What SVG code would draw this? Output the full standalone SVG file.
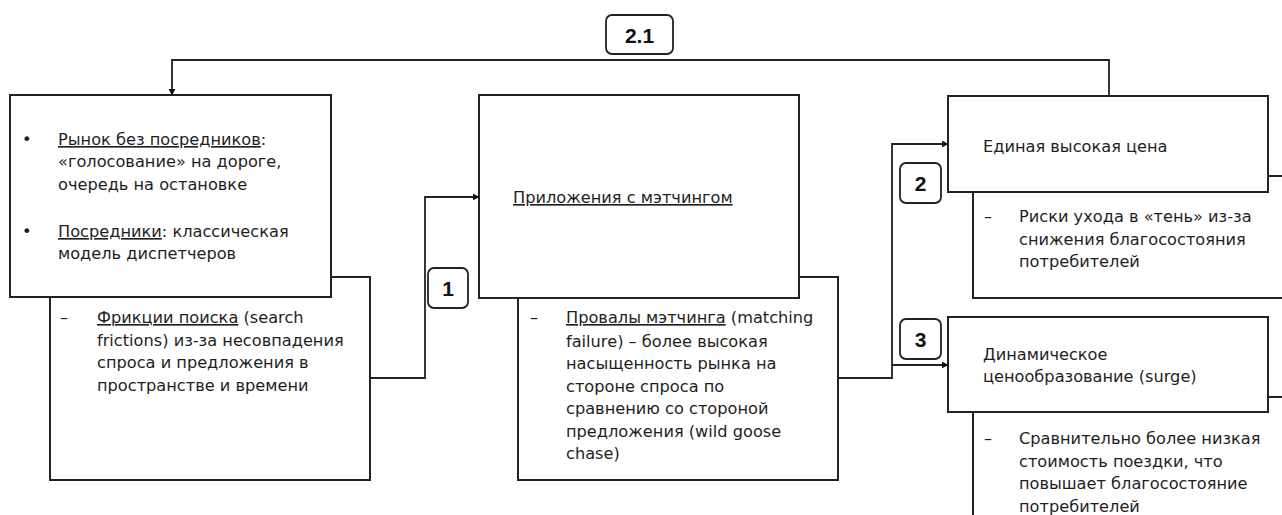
<svg xmlns="http://www.w3.org/2000/svg" width="1282" height="515" viewBox="0 0 1282 515">
<defs>
<style>
.box{fill:#fff;stroke:#222;stroke-width:2}
.lbl{fill:#fff;stroke:#222;stroke-width:1.8}
.t{font-family:"DejaVu Sans","Open Sans",sans-serif;font-size:16.2px;fill:#1e1e1e}
.n{font-family:"Liberation Sans","Open Sans",sans-serif;font-size:21px;font-weight:bold;fill:#111;text-anchor:middle}
.u{text-decoration:underline}
.c{fill:none;stroke:#222;stroke-width:1.8}
</style>
<marker id="ah2" viewBox="0 0 10 10" refX="9" refY="5" markerWidth="7" markerHeight="7" markerUnits="userSpaceOnUse" orient="auto">
<path d="M0,0 L10,5 L0,10 z" fill="#111"/>
</marker>
</defs>
<rect width="1282" height="515" fill="#fff"/>

<g id="connectors">
<path class="c" d="M1109,96 V60 H172 V95" marker-end="url(#ah2)"/>
<path class="c" d="M370,378 H425 V197 H479" marker-end="url(#ah2)"/>
<path class="c" d="M838,378 H892 V144 H948" marker-end="url(#ah2)"/>
<path class="c" d="M892,365 H948" marker-end="url(#ah2)"/>
</g>

<g id="node1b">
<rect class="box" x="50" y="277" width="320" height="203"/>
<text class="t" x="60" y="323">–</text>
<text class="t" x="97" y="323"><tspan class="u">Фрикции поиска</tspan> (search</text>
<text class="t" x="97" y="346">frictions) из-за несовпадения</text>
<text class="t" x="97" y="368">спроса и предложения в</text>
<text class="t" x="97" y="391">пространстве и времени</text>
</g>
<g id="node1">
<rect class="box" x="10" y="95" width="321" height="202"/>
<text class="t" x="22" y="145">•</text>
<text class="t" x="58" y="145"><tspan class="u">Рынок без посредников</tspan>:</text>
<text class="t" x="58" y="167">«голосование» на дороге,</text>
<text class="t" x="58" y="190">очередь на остановке</text>
<text class="t" x="22" y="237">•</text>
<text class="t" x="58" y="237"><tspan class="u">Посредники</tspan>: классическая</text>
<text class="t" x="58" y="259">модель диспетчеров</text>
</g>

<g id="node2b">
<rect class="box" x="518" y="277" width="320" height="203"/>
<text class="t" x="530" y="323">–</text>
<text class="t" x="566" y="323"><tspan class="u">Провалы мэтчинга</tspan> (matching</text>
<text class="t" x="566" y="347">failure) – более высокая</text>
<text class="t" x="566" y="369">насыщенность рынка на</text>
<text class="t" x="566" y="392">стороне спроса по</text>
<text class="t" x="566" y="414">сравнению со стороной</text>
<text class="t" x="566" y="437">предложения (wild goose</text>
<text class="t" x="566" y="459">chase)</text>
</g>
<g id="node2">
<rect class="box" x="479" y="95" width="320" height="203"/>
<text class="t u" x="513" y="203">Приложения с мэтчингом</text>
</g>

<g id="node3b">
<rect class="box" x="973" y="176" width="322" height="122"/>
<text class="t" x="984" y="222">–</text>
<text class="t" x="1019" y="222">Риски ухода в «тень» из-за</text>
<text class="t" x="1019" y="245">снижения благосостояния</text>
<text class="t" x="1019" y="267">потребителей</text>
</g>
<g id="node3">
<rect class="box" x="948" y="96" width="320" height="96"/>
<text class="t" x="983" y="152">Единая высокая цена</text>
</g>

<g id="node4b">
<rect class="box" x="973" y="397" width="322" height="140"/>
<text class="t" x="984" y="444">–</text>
<text class="t" x="1019" y="444">Сравнительно более низкая</text>
<text class="t" x="1019" y="467">стоимость поездки, что</text>
<text class="t" x="1019" y="489">повышает благосостояние</text>
<text class="t" x="1019" y="512">потребителей</text>
</g>
<g id="node4">
<rect class="box" x="948" y="317" width="320" height="95"/>
<text class="t" x="983" y="360">Динамическое</text>
<text class="t" x="983" y="382">ценообразование (surge)</text>
</g>

<g id="label21">
<rect class="lbl" x="606" y="15" width="67" height="39" rx="6"/>
<text class="n" x="639.5" y="43">2.1</text>
</g>
<g id="label1">
<rect class="lbl" x="428" y="268" width="40" height="40" rx="6"/>
<text class="n" x="448" y="296">1</text>
</g>
<g id="label2">
<rect class="lbl" x="900" y="163" width="41" height="40" rx="6"/>
<text class="n" x="920.5" y="191">2</text>
</g>
<g id="label3">
<rect class="lbl" x="900" y="319" width="41" height="40" rx="6"/>
<text class="n" x="920.5" y="347">3</text>
</g>
</svg>
